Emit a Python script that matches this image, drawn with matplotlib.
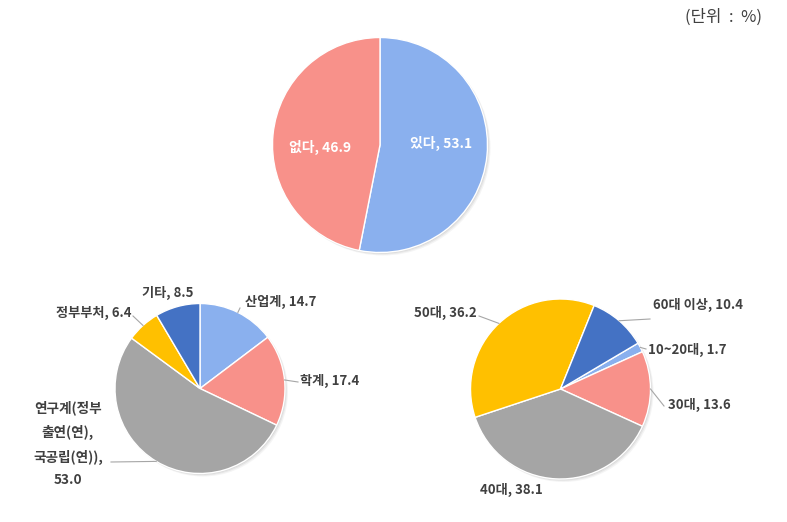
import matplotlib
matplotlib.use('Agg')
import matplotlib.pyplot as plt
from matplotlib.patches import Circle
import numpy as np

plt.rcParams['font.family'] = ['Noto Sans CJK KR', 'DejaVu Sans']

W, H = 787, 522

# ---- data ----
top_labels = ['있다', '없다']
top_values = [53.1, 46.9]

org_labels = ['산업계', '학계', '연구계(정부\n출연(연),\n국공립(연))', '정부부처', '기타']
org_values = [14.7, 17.4, 53.0, 6.4, 8.5]

age_labels = ['10~20대', '30대', '40대', '50대', '60대 이상']
age_values = [1.7, 13.6, 38.1, 36.2, 10.4]

unit_text = '(단위  :  %)'

# ---- colours ----
C_LBLUE = '#8AB0EE'
C_SALMON = '#F8918A'
C_GRAY = '#A5A5A5'
C_GOLD = '#FFC000'
C_DBLUE = '#4472C4'
TXT = '#404040'
LEAD = '#A6A6A6'

top_colors = [C_LBLUE, C_SALMON]
org_colors = [C_LBLUE, C_SALMON, C_GRAY, C_GOLD, C_DBLUE]
age_colors = [C_LBLUE, C_SALMON, C_GRAY, C_GOLD, C_DBLUE]

fig = plt.figure(figsize=(W / 100, H / 100), dpi=100)
ax = fig.add_axes([0, 0, 1, 1])
ax.set_xlim(0, W)
ax.set_ylim(0, H)
ax.axis('off')


def Y(y):
    return H - y


def fmt(lab, v):
    if '\n' in lab:
        return f'{lab},\n{v:.1f}'
    return f'{lab}, {v:.1f}'


def draw_pie(values, colors, cx, cy, r, startangle):
    # soft shadow
    for k, a in [(3.0, 0.10), (2.0, 0.15), (1.0, 0.2)]:
        ax.add_patch(Circle((cx + k, Y(cy) - k), r, color='#999999', alpha=a, lw=0, zorder=1))
    wedges, _ = ax.pie(values, colors=colors, startangle=startangle, counterclock=False,
                       center=(cx, Y(cy)), radius=r, frame=True,
                       wedgeprops=dict(edgecolor='white', linewidth=1.0, zorder=2))
    return wedges


def edge_point(w, cx, cy, r):
    mid = np.deg2rad((w.theta1 + w.theta2) / 2)
    return cx + r * np.cos(mid), Y(cy) + r * np.sin(mid)


# ---- top pie ----
tcx, tcy, tr = 380, 145, 107.5
tw = draw_pie(top_values, top_colors, tcx, tcy, tr, 90)
top_text_pos = [(441, 143), (320, 147)]
for lab, v, (x, y) in zip(top_labels, top_values, top_text_pos):
    ax.text(x, Y(y), fmt(lab, v), color='white', fontsize=10, fontweight='bold',
            ha='center', va='center', zorder=5)

# ---- bottom-left pie ----
ocx, ocy, orr = 200, 388.5, 85
ow = draw_pie(org_values, org_colors, ocx, ocy, orr, 90)
# (text x, text y, ha, leader end or None)
org_layout = [
    (245, 302, 'left', (240, 308)),
    (300, 381, 'left', (298, 382)),
    (68, 444, 'center', (111, 462)),
    (131, 313, 'right', (133, 316)),
    (193, 293, 'right', None),
]
for w, lab, v, (x, y, ha, lead) in zip(ow, org_labels, org_values, org_layout):
    ex, ey = edge_point(w, ocx, ocy, orr)
    if lead is not None:
        ax.plot([ex, lead[0]], [ey, Y(lead[1])], color=LEAD, lw=0.8, zorder=3)
    ax.text(x, Y(y), fmt(lab, v), color=TXT, fontsize=9.8 if '\n' in lab else 9.5,
            fontweight='bold', ha=ha, va='center', linespacing=1.8, zorder=5)

# ---- bottom-right pie ----
acx, acy, ar = 560.5, 389, 90
aw = draw_pie(age_values, age_colors, acx, acy, ar, 30.6)
age_layout = [
    (648, 350, 'left', (646, 349)),
    (668, 405, 'left', (664, 406)),
    (511, 490, 'center', None),
    (477, 313, 'right', (479, 316)),
    (653, 305, 'left', (650, 319)),
]
for w, lab, v, (x, y, ha, lead) in zip(aw, age_labels, age_values, age_layout):
    ex, ey = edge_point(w, acx, acy, ar)
    if lead is not None:
        ax.plot([ex, lead[0]], [ey, Y(lead[1])], color=LEAD, lw=0.8, zorder=3)
    ax.text(x, Y(y), fmt(lab, v), color=TXT, fontsize=9.5, fontweight='bold',
            ha=ha, va='center', zorder=5)

# ---- unit ----
ax.text(762, Y(17), unit_text, color=TXT, fontsize=12, ha='right', va='center')

ax.set_xlim(0, W)
ax.set_ylim(0, H)
ax.set_aspect('auto')
ax.axis('off')

fig.savefig('out.png', dpi=100)
